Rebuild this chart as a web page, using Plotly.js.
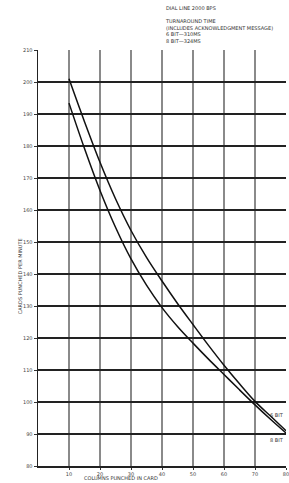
<!DOCTYPE html>
<html><head><meta charset="utf-8">
<script src="https://cdn.plot.ly/plotly-3.0.1.min.js"></script>
<style>html,body{margin:0;padding:0;background:#fff}#chart{width:289px;height:483px}</style>
</head><body><div id="chart"></div>
<script>
const columns = [10, 15, 20, 25, 30, 35, 40, 45, 50, 55, 60, 65, 70, 75, 80];
const bit6 = [201, 187.6, 174.9, 163.5, 153.6, 145.2, 137.8, 130.8, 124.2, 117.7, 111.5, 105.7, 100.2, 95.6, 91];
const bit8 = [193.4, 179.2, 166.1, 154.6, 144.7, 136.5, 129.5, 123.6, 118.4, 113.4, 108.6, 103.8, 99.1, 94.6, 90.3];
const xTicks = [10, 20, 30, 40, 50, 60, 70, 80];
const yTicks = [80, 90, 100, 110, 120, 130, 140, 150, 160, 170, 180, 190, 200, 210];
const seriesNames = ["6 BIT", "8 BIT"];
const headerLines = ["DIAL LINE 2000 BPS", "", "TURNAROUND TIME", "(INCLUDES ACKNOWLEDGMENT MESSAGE)", "6 BIT—310MS", "8 BIT—324MS"];
const xTitle = "COLUMNS PUNCHED IN CARD";
const yTitle = "CARDS PUNCHED PER MINUTE";

const F = "DejaVu Sans, sans-serif";
const txt = {size: 5, family: F, color: "#333"};
const traces = [
  {x: columns, y: bit6, mode: "lines", name: seriesNames[0], line: {color: "#111", width: 1.5, shape: "spline"}, hoverinfo: "skip"},
  {x: columns, y: bit8, mode: "lines", name: seriesNames[1], line: {color: "#111", width: 1.5, shape: "spline"}, hoverinfo: "skip"}
];
const layout = {
  width: 289, height: 483,
  margin: {l: 38, r: 3, t: 50, b: 17},
  showlegend: false,
  paper_bgcolor: "#fff", plot_bgcolor: "#fff",
  font: txt,
  xaxis: {
    range: [0, 80], tickvals: xTicks, ticktext: xTicks.map(String),
    showgrid: true, gridcolor: "#8a8a8a", gridwidth: 1.2,
    showline: true, linecolor: "#222", linewidth: 1.5,
    ticks: "outside", ticklen: 2, tickcolor: "#333",
    ticklabeloverflow: "allow",
    zeroline: false, tickfont: {size: 5, family: F, color: "#444"}
  },
  yaxis: {
    range: [80, 210], tickvals: yTicks, ticktext: yTicks.map(String),
    showgrid: true, gridcolor: "#222", gridwidth: 1.4,
    showline: true, linecolor: "#222", linewidth: 1.5,
    ticks: "outside", ticklen: 3, tickcolor: "#333",
    zeroline: false, tickfont: {size: 5, family: F, color: "#444"}
  },
  annotations: [
    {xref: "paper", yref: "y", x: 1, y: bit6[bit6.length-1], xanchor: "right", yanchor: "bottom", yshift: 11, text: seriesNames[0], showarrow: false, font: txt},
    {xref: "paper", yref: "y", x: 1, y: bit8[bit8.length-1], xanchor: "right", yanchor: "top", yshift: -2, text: seriesNames[1], showarrow: false, font: txt},
    {xref: "paper", yref: "paper", x: 0.505, y: 1, yshift: 47, xanchor: "left", yanchor: "top", align: "left", text: headerLines.join("<br>"), showarrow: false, font: txt},
    {xref: "paper", yref: "paper", x: 0.336, y: 0, yshift: -12, xanchor: "center", yanchor: "middle", text: xTitle, showarrow: false, font: txt, borderpad: 0},
    {xref: "paper", yref: "paper", x: 0, xshift: -18, y: 0.456, xanchor: "center", yanchor: "middle", textangle: -90, text: yTitle, showarrow: false, font: txt}
  ]
};
Plotly.newPlot("chart", traces, layout, {displayModeBar: false, staticPlot: true});
</script></body></html>
